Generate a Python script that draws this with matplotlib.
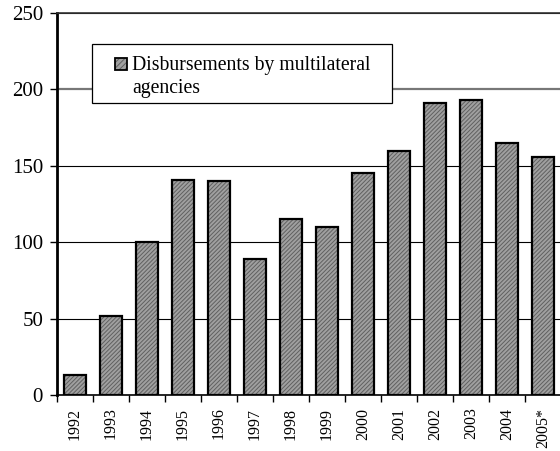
import matplotlib.pyplot as plt
from matplotlib.patches import Rectangle

years = ["1992", "1993", "1994", "1995", "1996", "1997", "1998",
         "1999", "2000", "2001", "2002", "2003", "2004", "2005*"]
disbursements = [13, 52, 100, 141, 140, 89, 115, 110, 145, 160, 191, 193, 165, 156]
legend_lines = ["Disbursements by multilateral", "agencies"]

plt.rcParams["font.family"] = ["Liberation Serif", "DejaVu Serif"]
plt.rcParams["hatch.linewidth"] = 0.7

W, H = 560, 451
fig = plt.figure(figsize=(W / 100, H / 100), dpi=100, facecolor="white")
ax = fig.add_axes([57 / W, 56 / H, 504 / W, 382 / H])

x = list(range(len(years)))
bar_face = "#a0a0a0"
hatch_col = "#606060"

# hatch layer first, then outline on top
ax.bar(x, disbursements, width=0.62, color=bar_face, edgecolor=hatch_col,
       hatch="////////", linewidth=0, zorder=2)
ax.bar(x, disbursements, width=0.62, fill=False, edgecolor="black",
       linewidth=1.6, zorder=3)

ax.set_ylim(0, 250)
ax.set_xlim(-0.5, len(years) - 0.5)
ax.set_yticks([0, 50, 100, 150, 200, 250])
ax.tick_params(axis="y", labelsize=15, length=5, width=1, pad=5)
ax.set_xticks(x)
ax.set_xticklabels(years, rotation=90, fontsize=11.5)
ax.tick_params(axis="x", which="major", length=0, pad=9)
ax.set_xticks([i + 0.5 for i in range(-1, len(years))], minor=True)
ax.tick_params(axis="x", which="minor", length=5, width=1)

ax.yaxis.grid(True, color="black", linewidth=0.8, zorder=0)
ax.set_axisbelow(True)
# the 200 line comes out grey and heavier in the original
grid200 = ax.get_ygridlines()[4]
grid200.set_color("#777777")
grid200.set_linewidth(1.6)
ax.yaxis.get_major_ticks()[4].tick1line.set_color("#777777")

ax.spines["left"].set_linewidth(2)
ax.spines["bottom"].set_linewidth(1.2)
ax.spines["top"].set_linewidth(1.2)
ax.spines["top"].set_color("#333333")
ax.spines["right"].set_color("#999999")


def px(xp, yp):
    """pixel coords (from top-left) -> figure fraction"""
    return xp / W, 1 - yp / H


# legend box drawn by hand to match the padding
x0, y0 = px(92, 103)
fig.patches.append(Rectangle((x0, y0), 300 / W, 59 / H, transform=fig.transFigure,
                             facecolor="white", edgecolor="black", linewidth=0.9,
                             zorder=5))
sx, sy = px(115, 70)
fig.patches.append(Rectangle((sx, sy), 12 / W, 12 / H, transform=fig.transFigure,
                             facecolor=bar_face, edgecolor=hatch_col, hatch="//////",
                             linewidth=0, zorder=6))
fig.patches.append(Rectangle((sx, sy), 12 / W, 12 / H, transform=fig.transFigure,
                             fill=False, edgecolor="black", linewidth=1.3, zorder=7))
for line, base in zip(legend_lines, [70, 93]):
    tx, ty = px(132, base)
    fig.text(tx, ty, line, fontsize=14.2, va="baseline", ha="left", zorder=8)

fig.savefig("out.png", dpi=100, facecolor="white")
